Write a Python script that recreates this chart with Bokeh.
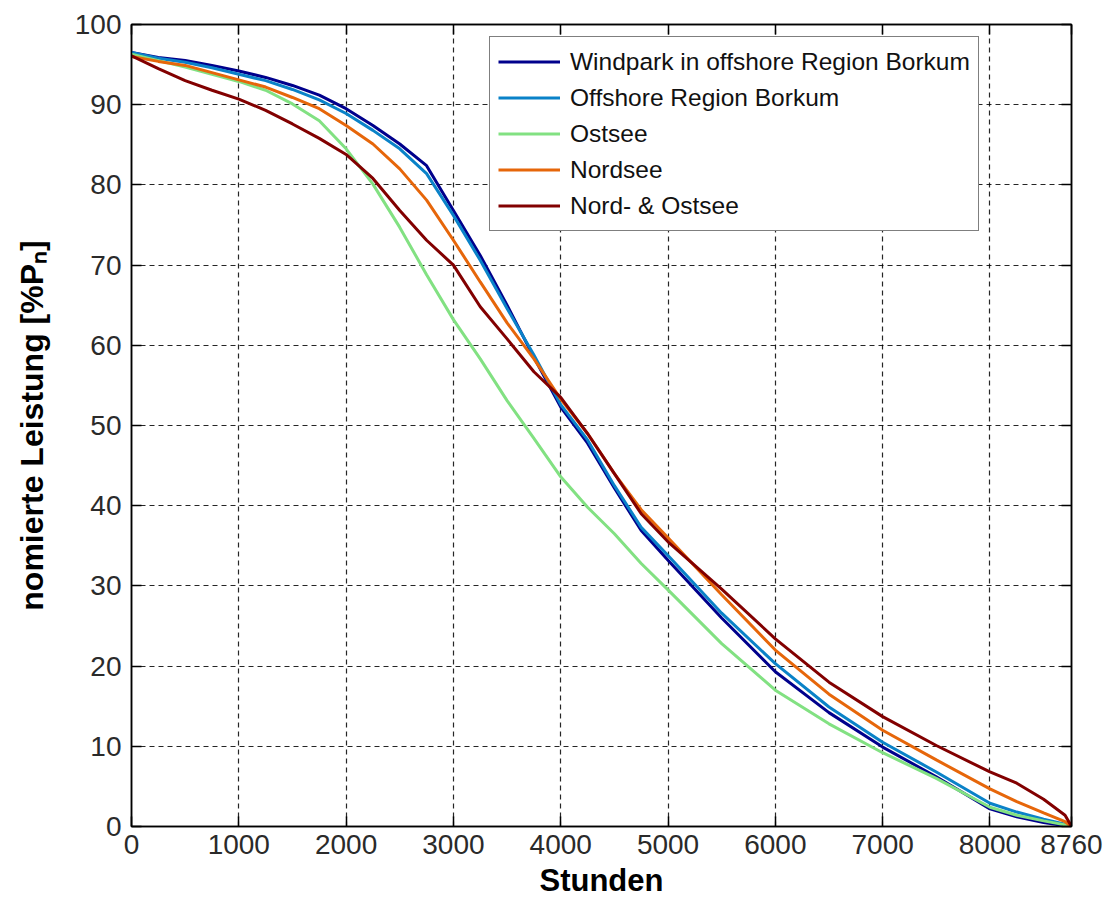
from bokeh.plotting import figure
from bokeh.models import LinearAxis, FixedTicker, Range1d, Legend, LegendItem
from bokeh.embed import file_html
from bokeh.resources import INLINE

# ---- data ----
hours = [0, 250, 500, 750, 1000, 1250, 1500, 1750, 2000, 2250, 2500, 2750, 3000, 3250,
         3500, 3750, 4000, 4250, 4500, 4750, 5000, 5500, 6000, 6500, 7000, 7500, 8000,
         8250, 8500, 8700, 8760]

windpark = [96.5, 95.9, 95.5, 94.9, 94.2, 93.4, 92.4, 91.2, 89.5, 87.4, 85.1, 82.4, 76.8, 71.2,
            65.0, 58.5, 52.3, 47.8, 42.2, 36.9, 33.2, 26.0, 19.3, 14.2, 9.9, 6.2, 2.2,
            1.2, 0.5, 0.1, 0]
region = [96.5, 95.8, 95.3, 94.6, 93.8, 93.0, 91.9, 90.6, 88.9, 86.8, 84.5, 81.4, 76.2, 70.6,
          64.6, 58.8, 52.6, 48.2, 42.5, 37.3, 33.8, 26.6, 20.3, 14.9, 10.5, 6.8, 2.9,
          1.8, 0.9, 0.3, 0]
ostsee = [96.3, 95.5, 94.7, 93.8, 92.9, 91.8, 90.1, 88.0, 84.5, 80.1, 74.7, 68.8, 63.2, 58.3,
          53.1, 48.4, 43.6, 39.8, 36.5, 32.8, 29.5, 22.8, 17.0, 12.8, 9.2, 6.0, 2.4,
          1.4, 0.7, 0.2, 0]
nordsee = [96.0, 95.4, 94.9, 94.0, 93.1, 92.2, 90.9, 89.5, 87.4, 85.1, 82.0, 78.1, 73.1, 67.9,
           62.8, 58.3, 53.3, 49.0, 44.0, 39.5, 36.0, 28.9, 22.0, 16.5, 12.0, 8.3, 4.7,
           3.1, 1.7, 0.6, 0]
nordost = [96.1, 94.5, 93.0, 91.8, 90.7, 89.3, 87.6, 85.8, 83.8, 80.8, 76.8, 73.1, 70.0, 64.8,
           60.8, 56.7, 53.5, 49.0, 44.0, 39.0, 35.5, 29.6, 23.4, 18.0, 13.7, 10.1, 6.8,
           5.4, 3.4, 1.4, 0]

series_names = ["Windpark in offshore Region Borkum", "Offshore Region Borkum", "Ostsee",
                "Nordsee", "Nord- & Ostsee"]
series_values = [windpark, region, ostsee, nordsee, nordost]
series_colors = ["#00008c", "#0a82c8", "#82e182", "#e6660a", "#820000"]

x_ticks = [0, 1000, 2000, 3000, 4000, 5000, 6000, 7000, 8000, 8760]
y_ticks = [0, 10, 20, 30, 40, 50, 60, 70, 80, 90, 100]

FONT = "Liberation Sans"

p = figure(width=1107, height=900,
           x_range=Range1d(0, 8760), y_range=Range1d(0, 100),
           output_backend="svg", toolbar_location=None,
           min_border_left=131, min_border_right=36,
           min_border_top=24, min_border_bottom=74)

p.outline_line_color = "black"
p.outline_line_width = 1.5

items = []
for name, vals, col in zip(series_names, series_values, series_colors):
    r = p.line(hours, vals, line_color=col, line_width=3)
    items.append(LegendItem(label=name, renderers=[r]))

# grid
for g in (p.xgrid, p.ygrid):
    g.grid_line_color = "black"
    g.grid_line_alpha = 0.85
    g.grid_line_dash = "5 4"
    g.grid_line_width = 1.2
p.xgrid.ticker = FixedTicker(ticks=x_ticks)
p.ygrid.ticker = FixedTicker(ticks=y_ticks)

def style_axis(ax, labels=True):
    ax.axis_line_color = "black"
    ax.axis_line_width = 1.5
    ax.major_tick_in = 10
    ax.major_tick_out = 0
    ax.major_tick_line_color = "black"
    ax.major_tick_line_width = 1.5
    ax.minor_tick_line_color = None
    ax.major_label_text_font = FONT
    ax.major_label_text_font_size = "28px" if labels else "0px"
    ax.major_label_text_color = "#2a2a2a"

p.xaxis.ticker = FixedTicker(ticks=x_ticks)
p.yaxis.ticker = FixedTicker(ticks=y_ticks)
style_axis(p.xaxis[0])
style_axis(p.yaxis[0])
p.xaxis.major_label_standoff = 8
p.yaxis.major_label_standoff = 10

p.xaxis.axis_label = "Stunden"
p.yaxis.axis_label = "nomierte Leistung [%Pₙ]"
p.xaxis.axis_label_text_font_size = "31px"
p.yaxis.axis_label_text_font_size = "32px"
for ax in (p.xaxis[0], p.yaxis[0]):
    ax.axis_label_text_font = FONT
    ax.axis_label_text_font_style = "bold"
    ax.axis_label_text_color = "black"
p.xaxis.axis_label_standoff = 6
p.yaxis.axis_label_standoff = 22

top_ax = LinearAxis(ticker=FixedTicker(ticks=x_ticks), major_label_standoff=0)
right_ax = LinearAxis(ticker=FixedTicker(ticks=y_ticks), major_label_standoff=0)
style_axis(top_ax, labels=False)
style_axis(right_ax, labels=False)
top_ax.major_label_text_color = None
right_ax.major_label_text_color = None
p.add_layout(top_ax, "above")
p.add_layout(right_ax, "right")

legend = Legend(items=items, location=(358, 595))
legend.label_text_font = FONT
legend.label_text_font_size = "24.5px"
legend.label_text_color = "#111111"
legend.glyph_width = 62
legend.glyph_height = 33
legend.label_height = 33
legend.spacing = 3
legend.padding = 8
legend.margin = 0
legend.label_standoff = 10
legend.border_line_color = "black"
legend.border_line_width = 1.2
legend.background_fill_color = "white"
legend.background_fill_alpha = 1.0
p.add_layout(legend)

open("out.html", "w").write(file_html(p, INLINE))
